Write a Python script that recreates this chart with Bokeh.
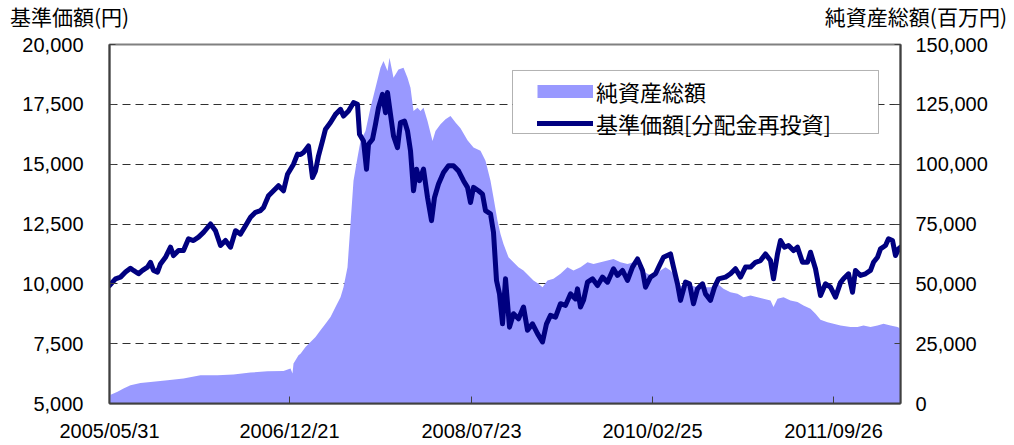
from bokeh.plotting import figure
from bokeh.models import (Range1d, LinearAxis, FixedTicker, NumeralTickFormatter,
                          Legend, LegendItem, BoxAnnotation, ColumnDataSource, Div)
from bokeh.layouts import column
from bokeh.embed import file_html
from bokeh.resources import INLINE

# ---------------- data (x = position along the business-day axis) ----------------
tick_pos = [0, 180, 362, 543, 724]
tick_labels = ["2005/05/31", "2006/12/21", "2008/07/23", "2010/02/25", "2011/09/26"]

price_t = [0, 6, 11, 16, 21, 24, 29, 33, 38, 41, 44, 48, 51, 56, 61, 64, 69, 74, 79, 84,
           89, 94, 101, 106, 111, 116, 121, 126, 131, 136, 141, 146, 151, 154, 159, 164, 169, 174, 178, 181,
           184, 188, 191, 194, 199, 203, 206, 209, 213, 216, 221, 226, 231, 234, 239, 244, 248, 250, 254, 257,
           259, 263, 266, 269, 273, 276, 278, 281, 284, 288, 291, 295, 298, 301, 304, 307, 310, 314, 318, 322,
           325, 329, 334, 339, 344, 349, 354, 358, 361, 364, 369, 373, 376, 381, 384, 387, 390, 393, 396, 400,
           404, 409, 414, 418, 423, 428, 433, 437, 441, 446, 451, 456, 461, 466, 468, 471, 474, 478, 483, 488,
           493, 498, 504, 508, 513, 518, 523, 528, 533, 536, 541, 546, 550, 554, 561, 564, 568, 571, 576, 580,
           584, 588, 593, 596, 601, 605, 609, 616, 621, 626, 631, 636, 641, 646, 651, 656, 661, 664, 668, 671,
           675, 679, 684, 688, 693, 698, 701, 706, 711, 716, 721, 726, 731, 734, 739, 743, 746, 751, 756, 761,
           764, 768, 771, 776, 779, 783, 786, 789, 791]
price_val = [9930, 10210, 10280, 10490, 10650, 10560, 10420, 10560, 10700, 10900, 10560, 10490, 10830, 11110, 11530, 11180, 11390, 11390, 11880, 11810,
             11950, 12150, 12500, 12220, 11600, 11810, 11530, 12220, 12080, 12430, 12780, 12990, 13060, 13190, 13680, 13890, 14100, 13890, 14580, 14790,
             15000, 15420, 15400, 15490, 15760, 14440, 14720, 15350, 15970, 16460, 16740, 17080, 17290, 17010, 17220, 17570, 17500, 16250, 15970, 14790,
             15830, 16040, 16670, 17360, 17920, 17150, 17990, 17080, 16180, 15690, 16740, 16800, 16390, 15560, 13890, 14790, 14310, 14790, 13610, 12640,
             13610, 14170, 14650, 14930, 14930, 14720, 14310, 14030, 13400, 14030, 13890, 13750, 13060, 12920, 12150, 10140, 9580, 8330, 10210, 8190,
             8750, 8540, 9030, 8060, 8330, 7920, 7570, 8330, 8680, 8610, 9170, 9100, 9580, 9370, 9790, 9030, 9310, 10070, 10210, 9930,
             10280, 10070, 10630, 10350, 10560, 10140, 10700, 11040, 10560, 9860, 10280, 10420, 10770, 11110, 11250, 10700, 10000, 9310, 10070, 10000,
             9170, 9790, 10000, 9580, 9310, 9860, 10210, 10280, 10420, 10630, 10280, 10700, 10700, 10900, 10970, 11250, 10970, 10210, 11250, 11810,
             11530, 11600, 11390, 11530, 10900, 10900, 11320, 10630, 9510, 10000, 9860, 9440, 10050, 10210, 10420, 9650, 10560, 10350, 10420, 10560,
             10900, 11110, 11460, 11600, 11880, 11810, 11180, 11460, 11530]

nav_t = [0, 8, 14, 21, 31, 41, 58, 74, 91, 108, 124, 141, 158, 174, 181, 183, 184, 186, 189, 191,
         196, 201, 206, 211, 216, 221, 226, 231, 234, 238, 241, 244, 248, 251, 256, 261, 266, 271, 274, 278,
         280, 284, 289, 294, 298, 301, 304, 308, 311, 314, 318, 323, 326, 331, 336, 341, 346, 351, 358, 364,
         371, 376, 381, 384, 388, 391, 394, 399, 404, 409, 414, 419, 424, 429, 433, 438, 444, 451, 458, 464,
         471, 478, 484, 491, 498, 504, 511, 518, 524, 531, 538, 544, 551, 556, 561, 564, 568, 574, 581, 588,
         594, 601, 608, 614, 621, 628, 634, 641, 648, 654, 661, 664, 668, 674, 681, 688, 694, 701, 706, 711,
         718, 724, 731, 741, 748, 754, 761, 768, 774, 781, 788, 791]
nav_val = [3470, 4860, 6250, 7640, 8610, 9030, 9720, 10420, 11810, 11810, 12080, 12920, 13470, 13610, 14580, 12500, 16670, 18060, 20140, 20830,
           23610, 25690, 27780, 30560, 33330, 36110, 40280, 44440, 48610, 56940, 75000, 93060, 102780, 109720, 113890, 123610, 131940, 140280, 143060, 138890,
           144440, 136110, 139580, 140280, 136110, 131940, 122220, 123610, 122220, 123610, 118060, 109720, 113890, 116670, 118750, 120140, 117360, 115000, 110000, 107000,
           105560, 101390, 93060, 86110, 76390, 70830, 66670, 61110, 59030, 56940, 55560, 53470, 51390, 50000, 48610, 51390, 52080, 54170, 56940, 55560,
           56940, 59030, 58330, 59030, 59720, 60420, 59030, 58330, 59030, 56000, 54170, 53000, 55560, 56940, 55560, 54000, 50000, 48610, 49310, 48610,
           48610, 48610, 50000, 47920, 46530, 45830, 44440, 45140, 44440, 43750, 43060, 40280, 43750, 44440, 43060, 42360, 40970, 39580, 37500, 35000,
           34000, 33330, 32640, 31940, 31940, 32640, 31940, 32640, 33330, 32640, 31940, 31250]

left_ticks = [5000, 7500, 10000, 12500, 15000, 17500, 20000]
right_ticks = [0, 25000, 50000, 75000, 100000, 125000, 150000]

left_title = "基準価額(円)"
right_title = "純資産総額(百万円)"
series_names = ["純資産総額", "基準価額[分配金再投資]"]

AREA = "#9999ff"
LINE = "#000080"
JP = "Noto Sans CJK JP"
NUM = "Liberation Sans"

# ---------------- header (axis titles) ----------------
header = Div(
    text=('<div style="position:relative;width:1014px;height:32px;'
          f'font-family:\'{JP}\';font-size:21px;color:#000;line-height:normal;">'
          f'<span style="position:absolute;left:10px;top:1px;white-space:nowrap;">{left_title}</span>'
          f'<span style="position:absolute;right:7px;top:1px;white-space:nowrap;">{right_title}</span>'
          '</div>'),
    width=1014, height=32, margin=(0, 0, 0, 0))

# ---------------- figure ----------------
p = figure(width=1014, height=413, output_backend="svg", toolbar_location=None,
           x_range=Range1d(0, 791), y_range=Range1d(5000, 20000),
           min_border_left=109, min_border_right=114, min_border_top=12, min_border_bottom=42,
           margin=(0, 0, 0, 0))
p.extra_y_ranges = {"nav": Range1d(0, 150000)}
p.background_fill_color = "white"
p.border_fill_color = "white"
p.outline_line_color = "#808080"
p.outline_line_width = 2

# grid
p.xgrid.visible = False
p.ygrid.ticker = FixedTicker(ticks=left_ticks[1:-1])
p.ygrid.grid_line_color = "#303030"
p.ygrid.grid_line_dash = "8 5"
p.ygrid.grid_line_width = 1

# x axis
xa = p.xaxis[0]
xa.ticker = FixedTicker(ticks=tick_pos)
xa.major_label_overrides = {t: l for t, l in zip(tick_pos, tick_labels)}
xa.major_tick_in = 7
xa.major_tick_out = 0
xa.minor_tick_line_color = None
xa.axis_line_color = "#404040"
xa.axis_line_width = 2
xa.major_tick_line_color = "#404040"
xa.major_label_text_font = NUM
xa.major_label_text_font_size = "20px"
xa.major_label_text_color = "black"
xa.major_label_standoff = 16

# left axis
ya = p.yaxis[0]
ya.ticker = FixedTicker(ticks=left_ticks)
ya.formatter = NumeralTickFormatter(format="0,0")
ya.major_tick_in = 6
ya.major_tick_out = 0
ya.minor_tick_line_color = None
ya.axis_line_color = "#404040"
ya.axis_line_width = 2
ya.major_tick_line_color = "#404040"
ya.major_label_text_font = NUM
ya.major_label_text_font_size = "20px"
ya.major_label_text_color = "black"
ya.major_label_standoff = 26

# right axis
ra = LinearAxis(y_range_name="nav", ticker=FixedTicker(ticks=right_ticks),
                formatter=NumeralTickFormatter(format="0,0"))
ra.major_tick_in = 6
ra.major_tick_out = 0
ra.minor_tick_line_color = None
ra.axis_line_color = "#404040"
ra.axis_line_width = 2
ra.major_tick_line_color = "#404040"
ra.major_label_text_font = NUM
ra.major_label_text_font_size = "20px"
ra.major_label_text_color = "black"
ra.major_label_standoff = 15
p.add_layout(ra, "right")

# ---------------- glyphs ----------------
nav_src = ColumnDataSource(dict(t=nav_t, v=nav_val))
price_src = ColumnDataSource(dict(t=price_t, v=price_val))

area = p.varea(x="t", y1=0, y2="v", source=nav_src, y_range_name="nav",
               fill_color=AREA, fill_alpha=1)
price = p.line(x="t", y="v", source=price_src, line_color=LINE, line_width=5,
               line_join="round", line_cap="round")
# legend swatch for the area series (a thick light line, not shown in the plot)
swatch = p.line(x=[float("nan"), float("nan")], y=[float("nan"), float("nan")],
                line_color=AREA, line_width=13)

# ---------------- legend ----------------
box = BoxAnnotation(left=403, right=769, top=18914, bottom=16281,
                    fill_color="white", fill_alpha=1, line_color="black", line_width=1)
p.add_layout(box)

legend = Legend(items=[LegendItem(label=series_names[0], renderers=[swatch]),
                       LegendItem(label=series_names[1], renderers=[price])],
                location=(428, 264), padding=0, spacing=-7, margin=0,
                glyph_width=56, glyph_height=30, label_height=30, label_standoff=3,
                label_text_font=JP, label_text_font_size="22px", label_text_color="black",
                border_line_alpha=0, background_fill_alpha=0)
p.add_layout(legend)

layout = column(header, p, spacing=0, margin=(0, 0, 0, 0))
open("out.html", "w").write(file_html(layout, INLINE))
